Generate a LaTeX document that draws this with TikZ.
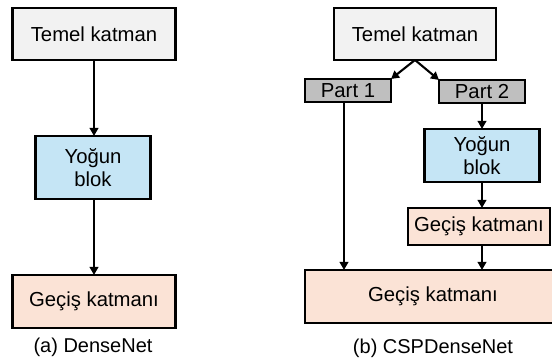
\documentclass[tikz,border=0pt]{standalone}
\usepackage{fontspec}
\setmainfont{Liberation Sans}
\usetikzlibrary{arrows.meta}
\definecolor{baseGray}{HTML}{F2F2F2}
\definecolor{partGray}{HTML}{BFBFBF}
\definecolor{denseBlue}{HTML}{C5E5F5}
\definecolor{transPeach}{HTML}{FBE3D6}
\tikzset{
  blockbox/.style={draw=black, line width=2.1pt, inner sep=0pt, outer sep=0pt,
    font=\fontsize{20.3}{23.5}\selectfont, align=center},
  basebox/.style={blockbox, fill=baseGray},
  partbox/.style={blockbox, fill=partGray},
  densebox/.style={blockbox, fill=denseBlue},
  transbox/.style={blockbox, fill=transPeach},
  flow/.style={line width=2.1pt, -{Triangle[length=8pt,width=8.5pt]}},
  captiontext/.style={font=\fontsize{20}{23}\selectfont, inner sep=0pt}
}
\begin{document}
\begin{tikzpicture}[x=1pt,y=-1pt]
\useasboundingbox (0,0) rectangle (552,363);
\begin{scope}
\clip (0,0) rectangle (552,363);

% (a) DenseNet
\node[basebox, minimum width=163pt, minimum height=52pt] (tA) at (94,34) {Temel katman};
\node[densebox, minimum width=115pt, minimum height=63pt] (yA) at (93,167.5) {Yoğun\\blok};
\node[transbox, minimum width=163pt, minimum height=53pt] (gA) at (94,301.5) {Geçiş katmanı};
\node[captiontext] (capA) at (93,347) {(a) DenseNet};

\draw[flow] (tA.south) -- (tA.south |- yA.north);
\draw[flow] (tA.south |- yA.south) -- (tA.south |- gA.north);

% (b) CSPDenseNet
\node[basebox, minimum width=162pt, minimum height=52pt] (tB) at (415,34) {Temel katman};
\node[partbox, minimum width=86pt, minimum height=23pt] (p1) at (348,90.5) {Part 1};
\node[partbox, minimum width=86pt, minimum height=23pt] (p2) at (482,91.5) {Part 2};
\node[densebox, minimum width=115pt, minimum height=53pt] (yB) at (482,155.5) {Yoğun\\blok};
\node[transbox, minimum width=142pt, minimum height=37pt] (gB1) at (479,226.5) {Geçiş katmanı};
\node[transbox, minimum width=256pt, minimum height=53pt] (gB2) at (433,296.5) {Geçiş katmanı};
\node[captiontext] (capB) at (433,348) {(b) CSPDenseNet};

\coordinate (splitB) at (tB.south);
\coordinate (leftDrop) at ([xshift=-4pt]p1.south);
\draw[flow] (splitB) -- (p1.north east);
\draw[flow] (splitB) -- (p2.north west);
\draw[flow] (p2.south) -- (p2.south |- yB.north);
\draw[flow] (p2.south |- yB.south) -- (p2.south |- gB1.north);
\draw[flow] (p2.south |- gB1.south) -- (p2.south |- gB2.north);
\draw[flow] (leftDrop) -- (leftDrop |- gB2.north);
\end{scope}
\end{tikzpicture}
\end{document}
